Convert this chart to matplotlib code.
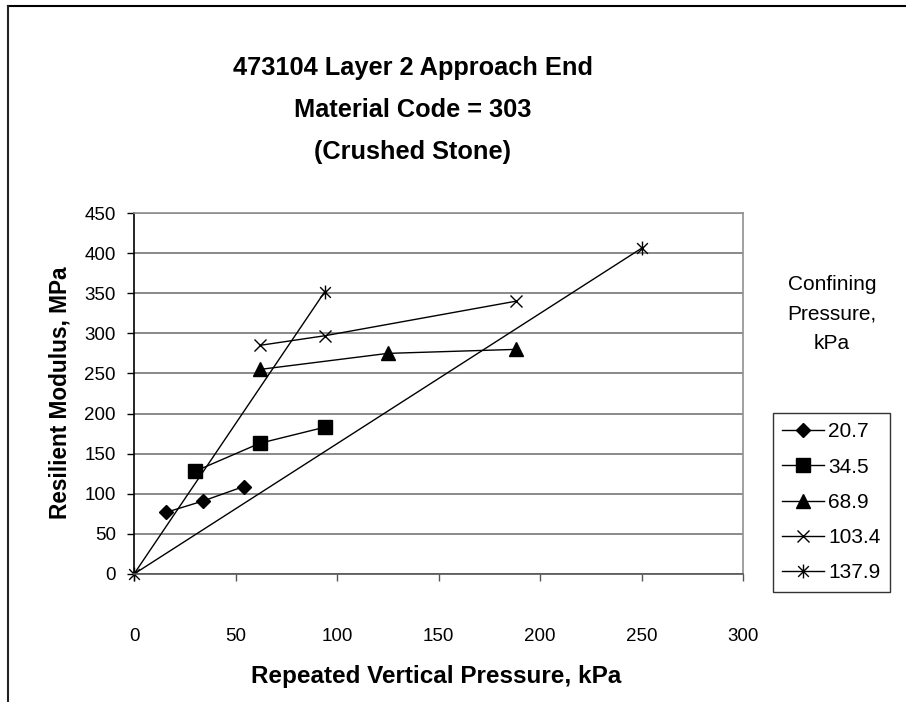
import matplotlib
matplotlib.use("Agg")
import matplotlib.pyplot as plt
from matplotlib.path import Path
from matplotlib.lines import Line2D

plt.rcParams['font.family'] = ['Liberation Sans', 'DejaVu Sans']

# -----------------------------
# data
# -----------------------------
labels = ["20.7", "34.5", "68.9", "103.4", "137.9"]

x_207 = [16, 34, 54]
y_207 = [77, 91, 109]

x_345 = [30, 62, 94]
y_345 = [128, 163, 183]

x_689 = [62, 125, 188]
y_689 = [255, 275, 280]

x_1034 = [62, 94, 188]
y_1034 = [285, 297, 340]

x_1379 = [94, 0, 250]
y_1379 = [352, 0, 406]

x_ticks = [0, 50, 100, 150, 200, 250, 300]
y_ticks = [0, 50, 100, 150, 200, 250, 300, 350, 400, 450]

# excel style star marker: x with a vertical bar
star = Path([(-1, -1), (1, 1), (-1, 1), (1, -1), (0, -1.3), (0, 1.3)],
            [Path.MOVETO, Path.LINETO, Path.MOVETO, Path.LINETO, Path.MOVETO, Path.LINETO])

fig = plt.figure(figsize=(9.06, 7.02), dpi=100)
ax = fig.add_axes([134 / 906, 1 - 574 / 702, (743 - 134) / 906, (574 - 213) / 702])

ax.plot(x_207, y_207, color="black", lw=1, marker="D", ms=7.5, label=labels[0], clip_on=False)
ax.plot(x_345, y_345, color="black", lw=1, marker="s", ms=9.5, label=labels[1], clip_on=False)
ax.plot(x_689, y_689, color="black", lw=1, marker="^", ms=9.5, label=labels[2], clip_on=False)
ax.plot(x_1034, y_1034, color="black", lw=1, marker="x", ms=9, mew=1, label=labels[3], clip_on=False)
ax.plot(x_1379, y_1379, color="black", lw=1, marker=star, ms=10, mew=1, mfc="none",
        label=labels[4], clip_on=False)

ax.set_xlim(0, 300)
ax.set_ylim(0, 450)
ax.set_xticks(x_ticks)
ax.set_yticks(y_ticks)
ax.tick_params(axis="both", labelsize=13.5, direction="out", length=5, width=1)
ax.tick_params(axis="x", pad=34, colors="#555555", labelcolor="black")
ax.tick_params(axis="y", pad=8)

ax.grid(axis="y", color="#808080", lw=1.3)
ax.set_axisbelow(True)
ax.spines["left"].set_color("black")
ax.spines["bottom"].set_color("#555555")
ax.spines["top"].set_color("#909090")
ax.spines["right"].set_color("#909090")
for s in ax.spines.values():
    s.set_linewidth(1.2)

fig.text(436 / 906, 1 - 677 / 702, "Repeated Vertical Pressure, kPa", ha="center", va="center",
         fontsize=17.5, fontweight="bold")
fig.text(60 / 906, 1 - 393 / 702, "Resilient Modulus, MPa", ha="center", va="center",
         rotation=90, fontsize=16.3, fontweight="bold")

fig.text(413 / 906, 1 - 68 / 702, "473104 Layer 2 Approach End", ha="center", va="center",
         fontsize=18.3, fontweight="bold")
fig.text(413 / 906, 1 - 110 / 702, "Material Code = 303", ha="center", va="center",
         fontsize=18.3, fontweight="bold")
fig.text(413 / 906, 1 - 152 / 702, "(Crushed Stone)", ha="center", va="center",
         fontsize=18.3, fontweight="bold")

fig.text(832 / 906, 1 - 314 / 702, "Confining\nPressure,\nkPa", ha="center", va="center",
         fontsize=15, linespacing=1.72)

leg = fig.legend(loc="upper left", bbox_to_anchor=(773 / 906, 1 - 413 / 702),
                 fontsize=15, frameon=True, fancybox=False, edgecolor="black",
                 handlelength=2.0, handletextpad=0.2, labelspacing=0.78,
                 borderpad=0.45, borderaxespad=0)
leg.get_frame().set_linewidth(1)

# outer chart border (top and left only visible)
fig.add_artist(Line2D([8 / 906, 1], [1 - 5.5 / 702, 1 - 5.5 / 702], color="black", lw=1.5))
fig.add_artist(Line2D([8 / 906, 8 / 906], [0, 1 - 5.5 / 702], color="#222222", lw=1.5))

fig.savefig("out.png", dpi=100)
